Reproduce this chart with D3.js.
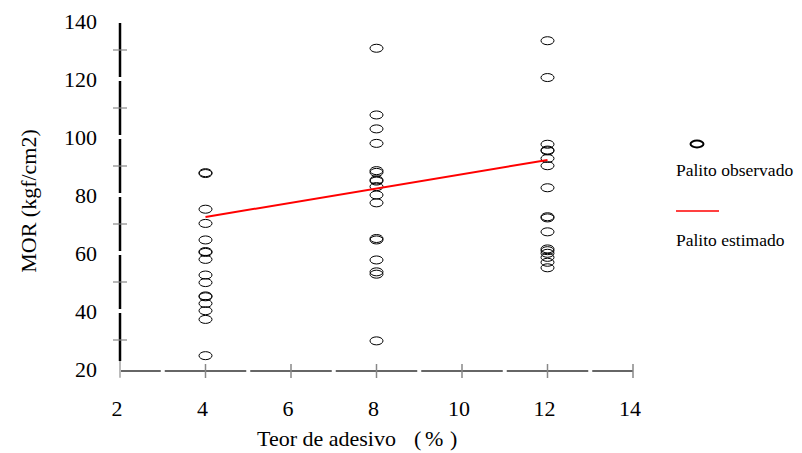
<!DOCTYPE html>
<html><head><meta charset="utf-8">
<script src="https://cdn.jsdelivr.net/npm/d3@7"></script>
<style>body{margin:0;background:#fff}svg{display:block}text{font-family:"Liberation Serif","Times New Roman",serif;fill:#000}</style>
</head><body><div id="c"></div>
<script>
const obs4 = [87.7, 87.4, 75.1, 70.2, 64.5, 60.5, 60.2, 57.8, 52.4, 49.8, 45.2, 44.9, 42.6, 40.1, 37.1, 24.6];
const obs8 = [130.6, 107.6, 102.8, 97.8, 88.4, 87.8, 85.2, 84.8, 82.9, 80, 77.3, 65, 64.5, 57.6, 53.5, 52.7, 29.7];
const obs12 = [133.2, 120.5, 97.5, 95.5, 95.2, 92.6, 90.1, 82.5, 72.5, 72.1, 67.3, 61.4, 60.8, 59.9, 58.5, 56.8, 54.9];
const groups = [4, 8, 12];
const estX = [4, 12];
const estY = [72.4, 92.1];
const xTicks = [2, 4, 6, 8, 10, 12, 14];
const yTicks = [20, 40, 60, 80, 100, 120, 140];
const legendLabels = ["Palito observado", "Palito estimado"];

const W = 802, H = 453;
const svg = d3.select("#c").append("svg").attr("width", W).attr("height", H);
const x = d3.scaleLinear().domain([2, 14]).range([120, 633]);
const y = d3.scaleLinear().domain([20, 140]).range([369, 21]);

// X axis: dark segments with gaps at odd values, gray ticks at even values
const xAxisY = y(20) + 2;
for (let v = 2; v < 14; v += 1) {
  const a = x(v) + (v % 2 === 0 ? 0 : 2), b = x(v + 1) - (v % 2 === 0 ? 2 : 0);
  svg.append("line").attr("x1", a).attr("x2", b).attr("y1", xAxisY).attr("y2", xAxisY)
    .attr("stroke", "#333").attr("stroke-width", 1.5);
}
svg.selectAll(".xt").data(xTicks).enter().append("line")
  .attr("x1", d => x(d)).attr("x2", d => x(d)).attr("y1", xAxisY - 7).attr("y2", xAxisY + 7)
  .attr("stroke", (d, i) => i === 0 ? "#bbb" : "#888").attr("stroke-width", 1.5);
svg.selectAll(".xl").data(xTicks).enter().append("text")
  .attr("x", d => x(d) - 3).attr("y", 416).attr("text-anchor", "middle").attr("font-size", 22).text(d => d);

// Y axis: black segments with gaps at major values, gray ticks at midpoints
const axX = x(2);
for (let i = 0; i < yTicks.length - 1; i++) {
  const v0 = yTicks[i], v1 = yTicks[i + 1];
  svg.append("line").attr("x1", axX).attr("x2", axX)
    .attr("y1", y(v0) - (i === 0 ? 8 : 2)).attr("y2", y(v1) + 2)
    .attr("stroke", "#000").attr("stroke-width", 2.5);
}
svg.append("line").attr("x1", axX).attr("x2", axX).attr("y1", y(20) - 8).attr("y2", y(20) + 8)
  .attr("stroke", "#bbb").attr("stroke-width", 2);
svg.selectAll(".ym").data(yTicks.slice(0, -1).map(v => v + 10)).enter().append("line")
  .attr("x1", axX - 7).attr("x2", axX + 7).attr("y1", d => y(d)).attr("y2", d => y(d))
  .attr("stroke", "#888").attr("stroke-width", 1.2);
svg.selectAll(".yl").data(yTicks).enter().append("text")
  .attr("x", 97).attr("y", d => y(d) + 8).attr("text-anchor", "end").attr("font-size", 22).text(d => d);

// Axis titles
const xt = svg.append("text").attr("y", 446).attr("font-size", 22);
xt.append("tspan").attr("x", 257).text("Teor de adesivo ");
xt.append("tspan").attr("x", 414).text("(");
xt.append("tspan").attr("x", 425).text("%");
xt.append("tspan").attr("x", 450).text(")");
svg.append("text").attr("transform", "translate(36,201) rotate(-90)").attr("text-anchor", "middle").attr("font-size", 22).text("MOR (kgf/cm2)");

// Points
const pts = [];
[obs4, obs8, obs12].forEach((arr, gi) => arr.forEach(v => pts.push([groups[gi], v])));
svg.selectAll(".p").data(pts).enter().append("ellipse")
  .attr("cx", d => x(d[0])).attr("cy", d => y(d[1])).attr("rx", 6.5).attr("ry", 4)
  .attr("fill", "none").attr("stroke", "#000").attr("stroke-width", 1);

// Estimated line
const line = d3.line().x(d => x(d[0])).y(d => y(d[1]));
svg.append("path").datum(estX.map((v, i) => [v, estY[i]])).attr("d", line)
  .attr("fill", "none").attr("stroke", "#f00").attr("stroke-width", 2);

// Legend
svg.append("ellipse").attr("cx", 697).attr("cy", 144).attr("rx", 6.5).attr("ry", 3.5)
  .attr("fill", "none").attr("stroke", "#000").attr("stroke-width", 2);
svg.append("text").attr("x", 676).attr("y", 176).attr("font-size", 17.5).text(legendLabels[0]);
svg.append("line").attr("x1", 676).attr("x2", 719).attr("y1", 211).attr("y2", 211).attr("stroke", "#f00").attr("stroke-width", 1.5);
svg.append("text").attr("x", 676).attr("y", 246).attr("font-size", 17.5).text(legendLabels[1]);
</script></body></html>
